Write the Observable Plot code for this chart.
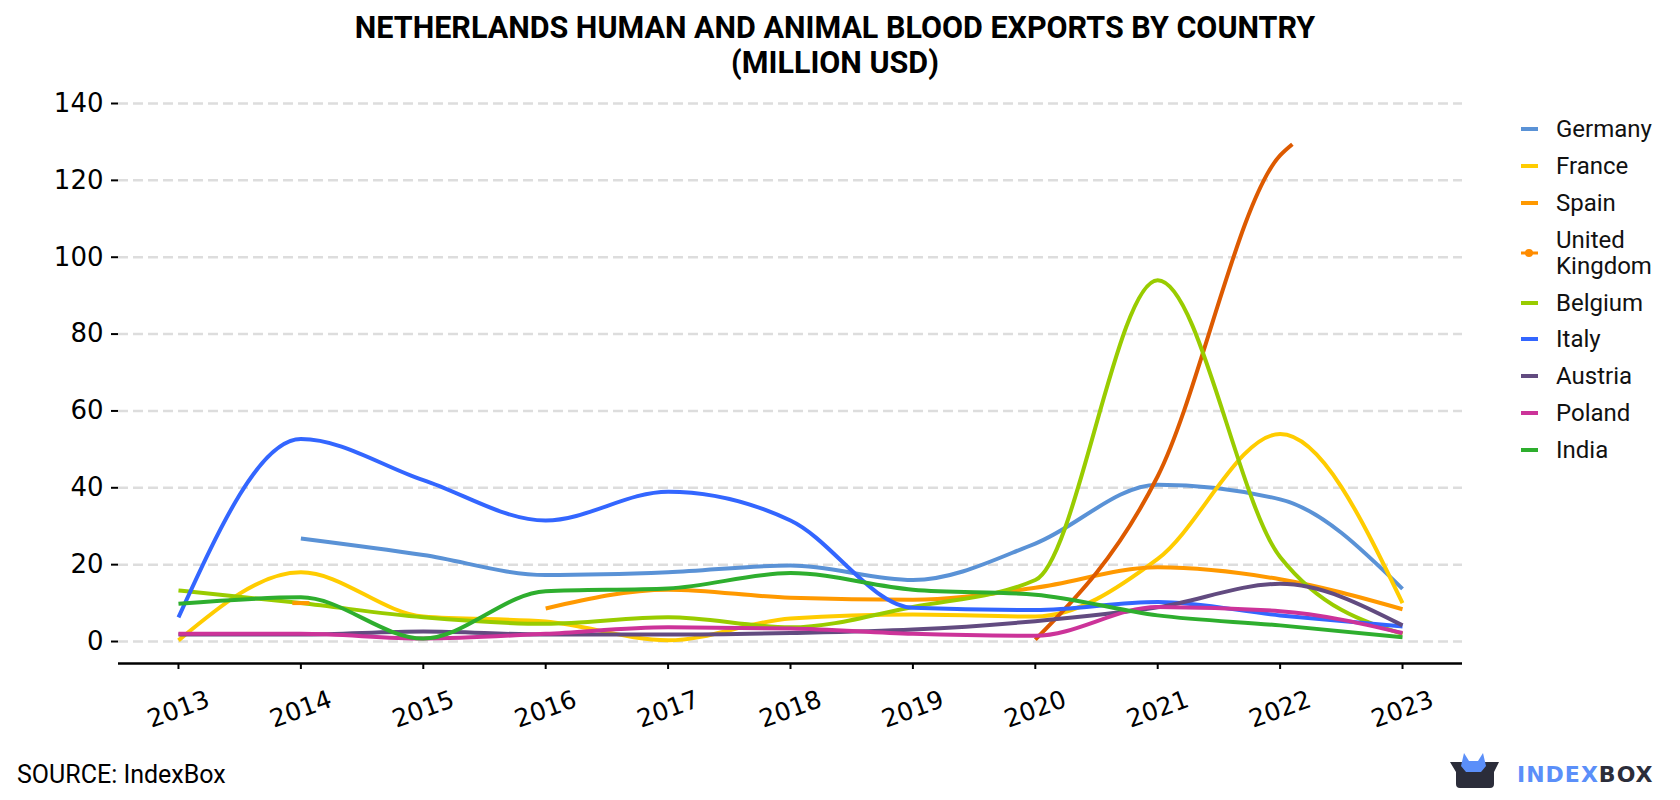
<!DOCTYPE html>
<html>
<head>
<meta charset="utf-8">
<script src="https://cdn.jsdelivr.net/npm/d3@7"></script>
<script src="https://cdn.jsdelivr.net/npm/@observablehq/plot@0.6"></script>
<style>
  html, body { margin: 0; padding: 0; background: #fff; }
  #page { position: relative; width: 1680px; height: 800px; overflow: hidden; font-family: Roboto, sans-serif; }
  #title { position: absolute; left: 0; top: 10px; width: 1670px; text-align: center; font: bold 30.5px/35px Roboto, sans-serif; color: #000; }
  #chart { position: absolute; left: 0; top: 90px; }
  #legend { position: absolute; left: 1521px; top: 111px; font: 24px Roboto, sans-serif; color: #111; }
  .item { display: flex; align-items: center; height: 36.8px; }
  .item.two { height: 62.8px; }
  .item .lab { margin-left: 18px; line-height: 26px; }
  .sw { width: 17px; height: 4px; flex: none; }
  #source { position: absolute; left: 17px; top: 761px; font: 25px/28px Roboto, sans-serif; color: #000; }
  #logo { position: absolute; left: 1440px; top: 745px; }
</style>
</head>
<body>
<div id="page">
  <div id="title">NETHERLANDS HUMAN AND ANIMAL BLOOD EXPORTS BY COUNTRY<br>(MILLION USD)</div>
  <div id="chart"></div>
  <div id="legend"></div>
  <div id="source">SOURCE: IndexBox</div>
  <svg id="logo" width="240" height="55" viewBox="1440 745 240 55">
    <path d="M1450,762 L1499,762 L1494,772 L1494,784 Q1494,788 1490,788 L1460,788 Q1456,788 1456,784 L1456,772 Z" fill="#2b2d3a"/>
    <path d="M1461,766 L1464,753 L1469,761 L1478,761 L1483,753 L1486,766 L1481,772 L1466,772 Z" fill="#5b8ff9"/>
    <text x="1517" y="782" font-family="DejaVu Sans" font-weight="bold" font-size="22" letter-spacing="1"><tspan fill="#5b8ff9">INDEX</tspan><tspan fill="#2b2d3a">BOX</tspan></text>
  </svg>
</div>
<script>
// ---- data (million USD) ----
const years = [2013, 2014, 2015, 2016, 2017, 2018, 2019, 2020, 2021, 2022, 2023];
const countries = ["Germany", "France", "Spain", "United Kingdom", "Belgium", "Italy", "Austria", "Poland", "India"];
const germany = [null, 26.8, 22.5, 17.3, 18, 19.8, 16, 25.5, 40.8, 37, 13.7];
const france  = [0.3, 18, 6.5, 5.2, 0.3, 6, 7, 6.5, 21.5, 54, 10];
const spain   = [null, 10, null, 8.6, 13.5, 11.4, 10.9, 14, 19.3, 16.2, 8.4];
const ukYears = [2020, 2021, 2022, 2022.1];
const uk      = [0.5, 43, 126.5, 129.4];
const belgium = [13.3, 10, 6.3, 4.6, 6.3, 3.7, 9, 16, 94, 22, 2];
const italy   = [6.3, 52.7, 42, 31.5, 39, 31.5, 8.8, 8.2, 10.3, 6.8, 3.9];
const austria = [1.8, 1.8, 2.6, 1.8, 1.8, 2.2, 3.1, 5.3, 8.9, 15, 4.2];
const poland  = [2, 2, 0.8, 2, 3.7, 3.4, 2, 1.5, 9, 7.9, 2.2];
const india   = [9.8, 11.5, 0.8, 13.1, 13.8, 17.8, 13.5, 12.2, 6.8, 4.2, 1.1];
const yTicks = [0, 20, 40, 60, 80, 100, 120, 140];

// ---- styles ----
const lineColors = {
  "Germany": "#5a92d6", "France": "#ffcc00", "Spain": "#ff9900", "United Kingdom": "#dd5a00",
  "Belgium": "#99cc00", "Italy": "#3366ff", "Austria": "#624b80", "Poland": "#cc3399", "India": "#2eae2e"
};
const legendColors = Object.assign({}, lineColors, {"United Kingdom": "#ff8c00"});

// ---- table ----
const seriesValues = {
  "Germany": germany, "France": france, "Spain": spain, "Belgium": belgium,
  "Italy": italy, "Austria": austria, "Poland": poland, "India": india
};
const rows = [];
for (const c of countries) {
  if (c === "United Kingdom") {
    ukYears.forEach((y, i) => rows.push({country: c, year: y, value: uk[i]}));
  } else {
    seriesValues[c].forEach((v, i) => rows.push({country: c, year: years[i], value: v}));
  }
}
// isolated points (no neighbour on either side) are drawn as short stubs
const isolated = rows.filter((r, i) => r.value != null
  && (i === 0 || rows[i - 1].country !== r.country || rows[i - 1].value == null)
  && (i === rows.length - 1 || rows[i + 1].country !== r.country || rows[i + 1].value == null));

const yMin = -5.72;   // axis baseline sits a little below zero
const xPad = 0.49;    // axis extends beyond first/last year
const stub = 0.07;

const chart = Plot.plot({
  width: 1480, height: 640,
  marginLeft: 118, marginRight: 18, marginTop: 13, marginBottom: 67,
  x: {domain: [years[0] - xPad, years[years.length - 1] + xPad]},
  y: {domain: [yMin, 140]},
  style: {background: "transparent", overflow: "visible"},
  marks: [
    Plot.gridY(yTicks, {stroke: "#dddddd", strokeOpacity: 1, strokeWidth: 2.5, strokeDasharray: "10,5"}),
    Plot.ruleY([yMin], {stroke: "#000", strokeWidth: 2.5}),
    Plot.axisY({ticks: yTicks, tickSize: 7, tickPadding: 8, strokeWidth: 2, fontSize: 26,
      fontFamily: "DejaVu Sans", fill: "#000", tickFormat: d => String(d), label: null}),
    Plot.axisX({ticks: years, tickSize: 6, tickPadding: 40, strokeWidth: 2, fontSize: 25,
      fontFamily: "DejaVu Sans", fill: "#000", tickRotate: -20, textAnchor: "middle", lineAnchor: "middle",
      tickFormat: d => String(d), label: null}),
    ...countries.map(c => Plot.line(rows.filter(r => r.country === c), {
      x: "year", y: "value", stroke: lineColors[c], strokeWidth: 4, curve: "monotone-x",
      strokeLinecap: "butt", strokeLinejoin: "round"
    })),
    Plot.link(isolated, {x1: d => d.year - stub, x2: d => d.year + stub, y1: "value", y2: "value",
      stroke: d => lineColors[d.country], strokeWidth: 4, strokeLinecap: "butt"})
  ]
});
document.getElementById("chart").appendChild(chart);

// ---- legend ----
const legend = document.getElementById("legend");
for (const c of countries) {
  const item = document.createElement("div");
  const two = c === "United Kingdom";
  item.className = "item" + (two ? " two" : "");
  if (two) {
    item.innerHTML = `<svg width="17" height="12" style="flex:none;overflow:visible"><line x1="0" y1="6" x2="17" y2="6" stroke="${legendColors[c]}" stroke-width="3"/><circle cx="8" cy="6" r="4" fill="${legendColors[c]}"/></svg><span class="lab">United<br>Kingdom</span>`;
  } else {
    item.innerHTML = `<div class="sw" style="background:${legendColors[c]}"></div><span class="lab">${c}</span>`;
  }
  legend.appendChild(item);
}
</script>
</body>
</html>
